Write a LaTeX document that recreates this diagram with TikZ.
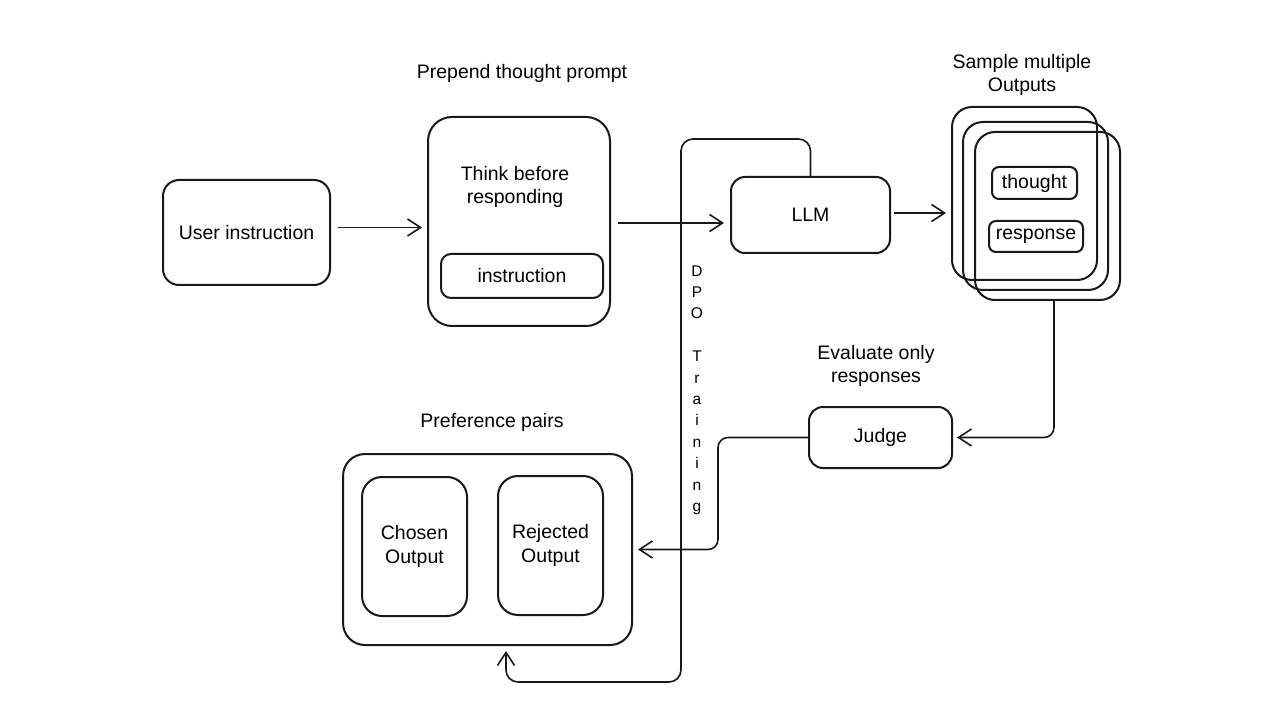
\documentclass[tikz,border=0pt]{standalone}
\usepackage{fontspec}
\setmainfont{Liberation Sans}
\usetikzlibrary{arrows.meta}
\begin{document}
\begin{tikzpicture}[x=1pt,y=-1pt,
  box/.style={draw=black!90, line width=2pt, inner sep=0pt, font=\fontsize{19.5}{24}\selectfont, align=center},
  lbl/.style={font=\fontsize{19.5}{23}\selectfont, align=center, inner sep=0pt},
  arr/.style={draw=black!90, line width=1.6pt, -{Straight Barb[length=13pt,width=17pt,line width=1.6pt]}},
  conn/.style={draw=black!90, line width=1.6pt}]
\useasboundingbox (0,0) rectangle (1280,719);
\fill[white] (0,0) rectangle (1280,719);

% nodes
\node[box, rounded corners=16pt, minimum width=167pt, minimum height=105pt] (ui) at (246.5,232.5) {User instruction};
\node[box, rounded corners=24pt, minimum width=182pt, minimum height=209pt] (think) at (519,221.5) {};
\node[lbl] (thinkt) at (515,187) {Think before\\responding};
\node[box, rounded corners=10pt, minimum width=162pt, minimum height=44pt] (inst) at (522,276) {instruction};
\node[lbl] (prep) at (522,73) {Prepend thought prompt};

\node[box, rounded corners=14pt, minimum width=159pt, minimum height=76pt] (llm) at (810.5,215) {LLM};

\node[box, rounded corners=20pt, minimum width=145pt, minimum height=173pt] (s1) at (1024.5,193.5) {};
\node[box, rounded corners=20pt, minimum width=145pt, minimum height=168pt] (s2) at (1035.5,206) {};
\node[box, rounded corners=20pt, minimum width=145pt, minimum height=168pt] (s3) at (1047.5,216) {};
\node[box, rounded corners=7pt, minimum width=85pt, minimum height=32pt] (thought) at (1034.5,183) {thought};
\node[box, rounded corners=7pt, minimum width=94pt, minimum height=31pt] (response) at (1036,236.5) {response};
\node[lbl] (samp) at (1022,75) {Sample multiple\\Outputs};

\node[box, rounded corners=14pt, minimum width=143pt, minimum height=61pt] (judge) at (880.5,437.5) {Judge};
\node[lbl] (eval) at (876,366) {Evaluate only\\responses};

\node[box, rounded corners=22pt, minimum width=289pt, minimum height=191pt] (pref) at (487.5,549.5) {};
\node[box, rounded corners=20pt, minimum width=105pt, minimum height=139pt] (chosen) at (414.5,546.5) {Chosen\\Output};
\node[box, rounded corners=20pt, minimum width=105pt, minimum height=139pt] (rejected) at (550.5,545.5) {Rejected\\Output};
\node[lbl] (preft) at (492,422) {Preference pairs};

\node[font=\fontsize{15.5}{21.4}\selectfont, align=center, inner sep=0pt] (dpo) at (697,390) {D\\P\\O\\[21.4pt]T\\r\\a\\i\\n\\i\\n\\g};

% connectors
\draw[arr] ([xshift=7pt,yshift=5pt]ui.east) -- ([xshift=-5pt,yshift=5pt]ui.east -| think.west);
\draw[arr] ([xshift=7pt,yshift=-1.5pt]think.east) -- ([xshift=-6pt,yshift=-1.5pt]think.east -| llm.west);
\draw[arr] ([xshift=3pt,yshift=2pt]llm.east) -- ([xshift=-5pt,yshift=2pt]llm.east -| s1.west);
\draw[arr, rounded corners=10pt] ([xshift=6.5pt]s3.south) |- ([xshift=4pt]judge.east);
\draw[arr, rounded corners=10pt] (judge.west) -- ++(-90,0) |- ([xshift=5pt]pref.east);
\coordinate (dpoTop) at (681,139);
\coordinate (dpoBot) at (681,682);
\draw[arr, rounded corners=12pt, shorten >=5pt] (llm.north) |- (dpoTop) -- (dpoBot) -| ([xshift=18.5pt]pref.south);
\end{tikzpicture}
\end{document}
